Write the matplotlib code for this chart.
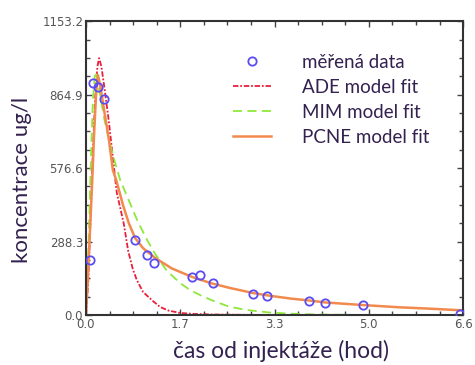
import numpy as np
import matplotlib
matplotlib.use("Agg")
import matplotlib.pyplot as plt
from matplotlib.ticker import FixedLocator

# measured points (hours, ug/l)
data_x = [0.07, 0.13, 0.21, 0.32, 0.86, 1.07, 1.19, 1.86, 2.00, 2.22,
          2.93, 3.17, 3.90, 4.19, 4.85, 6.55]
data_y = [216, 910, 894, 847, 294, 235, 204, 149, 157, 126,
          82, 75, 55, 47, 39, 4]

# model curves
ade_x = [0.0, 0.04, 0.08, 0.12, 0.16, 0.20, 0.23, 0.27, 0.33, 0.40, 0.47,
         0.54, 0.60, 0.66, 0.74, 0.82, 0.89, 1.00, 1.17, 1.30, 1.45, 1.65,
         1.90, 2.20, 2.60, 3.20, 4.00, 4.80]
ade_y = [0, 130, 380, 640, 850, 975, 1008, 975, 880, 760, 620,
         478, 420, 360, 250, 180, 137, 90, 55, 31, 17, 8,
         4, 2, 1, 0, 0, 0]

mim_x = [0.0, 0.04, 0.08, 0.12, 0.16, 0.20, 0.25, 0.32, 0.40, 0.50, 0.60,
         0.77, 0.90, 1.07, 1.21, 1.42, 1.65, 1.82, 2.00, 2.20, 2.50, 2.80,
         3.20, 3.60, 4.00, 4.50, 4.80]
mim_y = [0, 230, 560, 840, 955, 930, 860, 770, 690, 605, 529,
         439, 370, 294, 240, 172, 125, 98, 78, 58, 33, 20,
         10, 5, 2, 1, 0]

pcne_x = [0.0, 0.04, 0.08, 0.11, 0.14, 0.18, 0.21, 0.25, 0.32, 0.40, 0.47,
          0.53, 0.65, 0.75, 0.86, 1.00, 1.21, 1.50, 1.86, 2.20, 2.52, 2.93,
          3.20, 3.60, 3.90, 4.20, 4.85, 5.50, 6.00, 6.60]
pcne_y = [0, 180, 380, 529, 700, 880, 941, 900, 800, 690, 569,
          529, 430, 360, 302, 262, 224, 183, 149, 124, 106, 86,
          76, 64, 57, 49, 39, 30, 25, 18]

xticks = [0.0, 1.65, 3.3, 4.95, 6.6]
xlabels = ["0.0", "1.7", "3.3", "5.0", "6.6"]
yticks = [0.0, 288.3, 576.6, 864.9, 1153.2]
ylabels = ["0.0", "288.3", "576.6", "864.9", "1153.2"]

txt = "#33214f"

fig = plt.figure(figsize=(4.75, 3.65), dpi=100)
ax = fig.add_axes([0.181, 0.137, 0.794, 0.805])

ax.plot(ade_x, ade_y, color="#e8203c", lw=1.3, ls=(0, (3, 1, 1, 1)),
        label="ADE model fit")
ax.plot(mim_x, mim_y, color="#8ee83a", lw=1.3, ls=(0, (5, 3)),
        label="MIM model fit")
ax.plot(pcne_x, pcne_y, color="#f28a4e", lw=1.8, label="PCNE model fit")
ax.plot(data_x, data_y, ls="none", marker="o", ms=6, mfc="none",
        mec="#5a4cf0", mew=1.3, label="měřená data", zorder=5)

ax.set_xlim(0, 6.6)
ax.set_ylim(0, 1153.2)
ax.set_xticks(xticks)
ax.set_xticklabels(xlabels)
ax.set_yticks(yticks)
ax.set_yticklabels(ylabels)
ax.xaxis.set_minor_locator(FixedLocator(np.arange(0, 6.61, 6.6 / 16)))
ax.yaxis.set_minor_locator(FixedLocator(np.arange(0, 1153.3, 1153.2 / 16)))
ax.tick_params(which="both", direction="in", top=True, right=True,
               color="#444444", labelsize=8.5, labelcolor="#555555", pad=2)
ax.tick_params(which="major", length=4, width=1)
ax.tick_params(which="minor", length=3, width=1)
for s in ax.spines.values():
    s.set_color("#333333")
    s.set_linewidth(1.5)

ax.set_xlabel("čas od injektáže (hod)", family="Lato", fontsize=16.5,
              color=txt)
ax.xaxis.set_label_coords(0.518, -0.085)
ax.set_ylabel("koncentrace ug/l", family="Lato", fontsize=16,
              color=txt)
ax.yaxis.set_label_coords(-0.143, 0.46)

h, l = ax.get_legend_handles_labels()
order = [3, 0, 1, 2]
leg = ax.legend([h[i] for i in order], [l[i] for i in order],
                loc="upper left", bbox_to_anchor=(233 / 475, 1 - 54 / 365),
                bbox_transform=fig.transFigure, frameon=False,
                borderpad=0, borderaxespad=0,
                prop={"family": "Lato", "size": 13.5}, handlelength=2.0,
                handletextpad=1.7, labelspacing=0.42)
for t in leg.get_texts():
    t.set_color(txt)

fig.savefig("out.png", dpi=100)
